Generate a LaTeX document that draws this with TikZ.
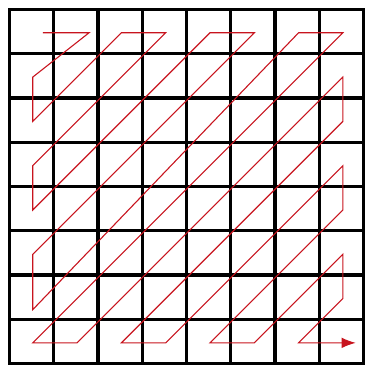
\documentclass[tikz,border=0pt]{standalone}
\usepackage{tikz}
\usetikzlibrary{arrows.meta,calc}
\definecolor{scanred}{RGB}{200,20,30}

\begin{document}
\begin{tikzpicture}[
    gridline/.style={line width=2.1pt, black},
    scanpath/.style={line width=0.7pt, scanred, line join=miter, -{Latex[length=3.2mm,width=2.4mm]}}
]
\useasboundingbox (-0.21,0.21) rectangle (8.03,-8.03);
\fill[white] (-0.21,0.21) rectangle (8.03,-8.03);

% 8x8 block
\draw[gridline] (0,0) grid (8,-8);
\draw[gridline, line cap=rect] (0,0) rectangle (8,-8);

% cell centres
\foreach \x in {0,...,7}
  \foreach \y in {0,...,7}
    \coordinate (c\x\y) at (\x+0.53,-\y-0.53);
\coordinate (start) at (0.76,-0.53);
\coordinate (c10) at (1.80,-0.53);
\coordinate (c06) at (0.53,-6.78);
\coordinate (stop) at (7.82,-7.53);

% zigzag order
\draw[scanpath] (start) -- (c10) -- (c01) -- (c02) -- (c20) -- (c30)
  -- (c03) -- (c04) -- (c40) -- (c50) -- (c05) -- (c06) -- (c60)
  -- (c70) -- (c07) -- (c17) -- (c71) -- (c72) -- (c27) -- (c37)
  -- (c73) -- (c74) -- (c47) -- (c57) -- (c75) -- (c76) -- (c67)
  -- (stop);
\end{tikzpicture}
\end{document}
